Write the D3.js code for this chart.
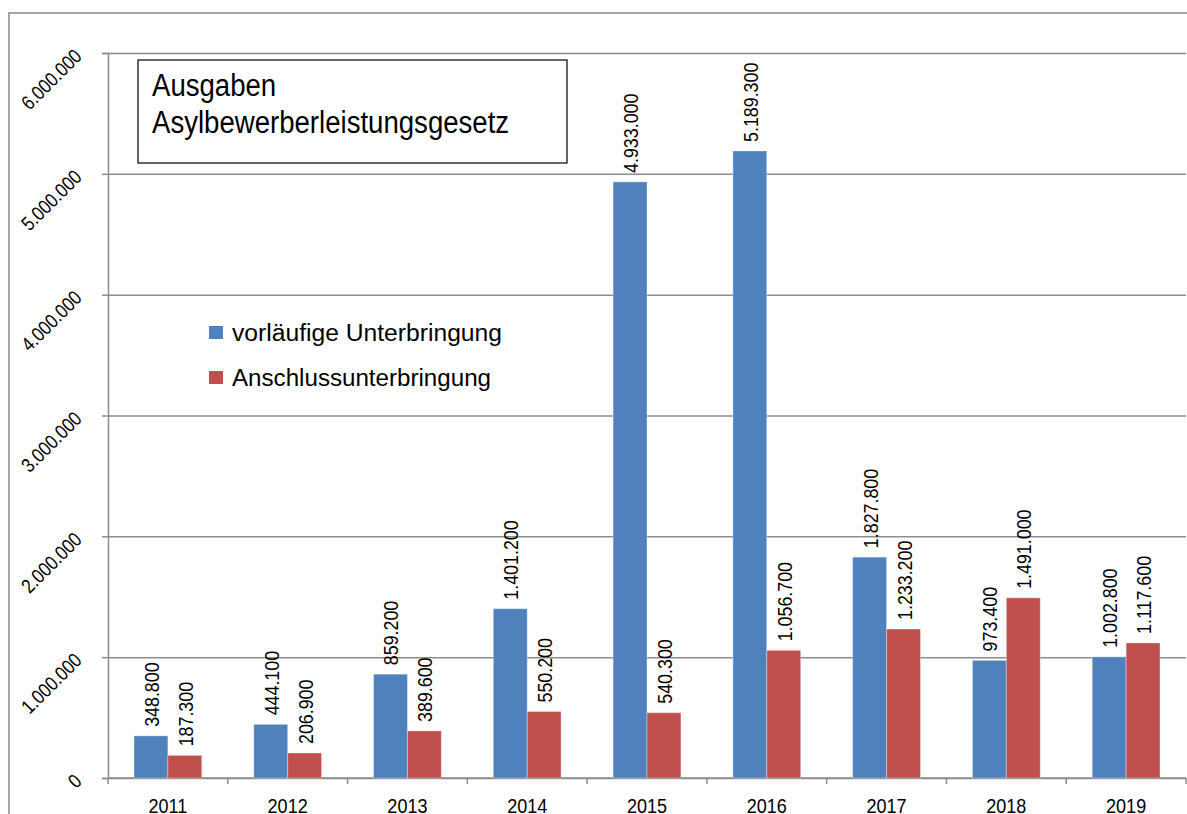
<!DOCTYPE html>
<html>
<head>
<meta charset="utf-8">
<script src="https://cdn.jsdelivr.net/npm/d3@7"></script>
<style>
    body { margin: 0; background: #fff; }
    svg { display: block; }
    text { font-family: "Liberation Sans", Arial, sans-serif; fill: #000; }
</style>
</head>
<body>
<svg id="chart" width="1187" height="814"></svg>
<script>

const years = ["2011", "2012", "2013", "2014", "2015", "2016", "2017", "2018", "2019"];
const vorlaeufig = [348800, 444100, 859200, 1401200, 4933000, 5189300, 1827800, 973400, 1002800];
const anschluss = [187300, 206900, 389600, 550200, 540300, 1056700, 1233200, 1491000, 1117600];
const seriesNames = ["vorläufige Unterbringung", "Anschlussunterbringung"];
const seriesColors = ["#4f81bd", "#c0504d"];
const yTicks = [0, 1000000, 2000000, 3000000, 4000000, 5000000, 6000000];
const titleLines = ["Ausgaben", "Asylbewerberleistungsgesetz"];


class BarChart {

    constructor(svg_element_id) {
        this.svg = d3.select('#' + svg_element_id);
        this.width = +this.svg.attr("width");
        this.height = +this.svg.attr("height");

        // plot area in pixels
        this.left = 108;
        this.right = 1186;
        this.top = 53;
        this.bottom = 778;

        // german number format: 1.234.567
        this.fmt = d3.formatLocale({decimal: ",", thousands: ".", grouping: [3], currency: ["", " €"]}).format(",d");

        this.rows = years.map((year, i) => ({
            year: year,
            values: [vorlaeufig[i], anschluss[i]]
        }));
    }

    draw() {
        const svg = this.svg;
        const fmt = this.fmt;

        // outer frame (only top and left edge visible)
        svg.append("path")
            .attr("d", `M9,${this.height} V13 H${this.width}`)
            .attr("fill", "none")
            .attr("stroke", "#a6a6a6")
            .attr("stroke-width", 2);

        const x0 = d3.scaleBand()
            .domain(years)
            .range([this.left, this.right]);

        const x1 = d3.scaleBand()
            .domain([0, 1])
            .range([x0.bandwidth() * 0.217, x0.bandwidth() * 0.783]);

        const y = d3.scaleLinear()
            .domain([0, 6000000])
            .range([this.bottom, this.top]);

        // gridlines
        svg.append("g")
            .attr("transform", `translate(${this.left},0)`)
            .call(d3.axisLeft(y).tickValues(yTicks).tickSize(-(this.right - this.left)).tickFormat(""))
            .call(g => g.select(".domain").remove())
            .call(g => g.selectAll("line").attr("stroke", "#8c8c8c").attr("stroke-width", 1.5));

        // y axis with small ticks and slanted labels
        const yAxis = svg.append("g")
            .attr("transform", `translate(${this.left},0)`)
            .call(d3.axisLeft(y).tickValues(yTicks).tickSize(6).tickFormat(fmt));
        yAxis.select(".domain").attr("stroke", "#8c8c8c").attr("stroke-width", 1.5);
        yAxis.selectAll("line").attr("stroke", "#8c8c8c").attr("stroke-width", 1.5);
        yAxis.selectAll("text")
            .attr("x", null).attr("dy", null)
            .attr("text-anchor", "end")
            .attr("font-size", 20)
            .attr("transform", "translate(-25,4) rotate(-45) scale(0.85,1)");

        // x axis: ticks on category borders, labels centered
        const xAxis = svg.append("g")
            .attr("transform", `translate(0,${this.bottom})`);
        xAxis.append("line")
            .attr("x1", this.left).attr("x2", this.right)
            .attr("stroke", "#8c8c8c").attr("stroke-width", 1.5);
        xAxis.selectAll(".border")
            .data(years.concat(["end"]))
            .enter().append("line")
            .attr("class", "border")
            .attr("x1", d => d === "end" ? this.right : x0(d))
            .attr("x2", d => d === "end" ? this.right : x0(d))
            .attr("y1", 0).attr("y2", 6)
            .attr("stroke", "#8c8c8c").attr("stroke-width", 1.5);
        xAxis.selectAll(".yr")
            .data(years)
            .enter().append("text")
            .attr("class", "yr")
            .attr("font-size", 21)
            .attr("text-anchor", "middle")
            .attr("transform", d => `translate(${x0(d) + x0.bandwidth() / 2},35) scale(0.86,1)`)
            .text(d => d);

        // bars
        const groups = svg.append("g").selectAll("g")
            .data(this.rows)
            .enter().append("g")
            .attr("transform", d => `translate(${x0(d.year)},0)`);

        groups.selectAll("rect")
            .data(d => d.values.map((v, i) => ({i: i, v: v})))
            .enter().append("rect")
            .attr("x", d => x1(d.i))
            .attr("width", x1.bandwidth())
            .attr("y", d => y(d.v))
            .attr("height", d => y(0) - y(d.v))
            .attr("fill", d => seriesColors[d.i])
            .attr("stroke", "#ffffff")
            .attr("stroke-opacity", 0.35)
            .attr("stroke-width", 1);

        // value labels, rotated
        groups.selectAll("text")
            .data(d => d.values.map((v, i) => ({i: i, v: v})))
            .enter().append("text")
            .attr("font-size", 21)
            .attr("transform", d => `translate(${x1(d.i) + x1.bandwidth() / 2 + 8},${y(d.v) - 9}) rotate(-90) scale(0.85,1)`)
            .text(d => fmt(d.v));

        // title box
        svg.append("rect")
            .attr("x", 138).attr("y", 60)
            .attr("width", 429).attr("height", 103)
            .attr("fill", "#fff")
            .attr("stroke", "#000")
            .attr("stroke-width", 1.2);
        svg.selectAll(".title")
            .data(titleLines)
            .enter().append("text")
            .attr("class", "title")
            .attr("font-size", 31)
            .attr("transform", (d, i) => `translate(152,${96 + i * 37}) scale(0.89,1)`)
            .text(d => d);

        // legend
        const legend = svg.append("g")
            .attr("transform", "translate(209,326)");
        const item = legend.selectAll("g")
            .data(seriesNames)
            .enter().append("g")
            .attr("transform", (d, i) => `translate(0,${i * 45})`);
        item.append("rect")
            .attr("width", 14).attr("height", 13)
            .attr("fill", (d, i) => seriesColors[i]);
        item.append("text")
            .attr("x", 23).attr("y", 15)
            .attr("font-family", "Lato, 'Open Sans', sans-serif")
            .attr("font-size", 23)
            .attr("textLength", (d, i) => i === 0 ? 270 : 259)
            .attr("lengthAdjust", "spacingAndGlyphs")
            .text(d => d);
    }
}


function whenDocumentLoaded(action) {
    if (document.readyState === "loading") {
        document.addEventListener("DOMContentLoaded", action);
    } else {
        action();
    }
}

whenDocumentLoaded(() => {
    const chart = new BarChart('chart');
    chart.draw();
});
</script>
</body>
</html>
